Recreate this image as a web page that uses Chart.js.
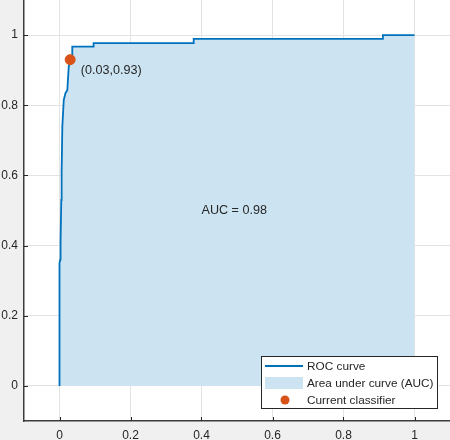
<!DOCTYPE html>
<html>
<head>
<meta charset="utf-8">
<script src="https://cdn.jsdelivr.net/npm/chart.js@4"></script>
<style>
  html, body { margin: 0; padding: 0; background: #f0f0f0; }
  canvas { display: block; }
</style>
</head>
<body>
<canvas id="roc" width="450" height="440"></canvas>
<script>
// ROC curve points (false positive rate, true positive rate)
const fpr = [0, 0, 0.002, 0.003, 0.005, 0.006, 0.008, 0.012, 0.017, 0.022, 0.026, 0.030, 0.036, 0.036, 0.096, 0.096, 0.378, 0.378, 0.911, 0.911, 1];
const tpr = [0, 0.35, 0.36, 0.41, 0.53, 0.61, 0.74, 0.815, 0.835, 0.843, 0.91, 0.925, 0.93, 0.967, 0.967, 0.977, 0.977, 0.989, 0.989, 1.0, 1.0];
// operating point of the current classifier
const opX = [0.03];
const opY = [0.93];
const opLabel = '(0.03,0.93)';
const aucLabel = 'AUC = 0.98';
const seriesLabels = ['ROC curve', 'Area under curve (AUC)', 'Current classifier'];
const xTicks = [0, 0.2, 0.4, 0.6, 0.8, 1];
const yTicks = [0, 0.2, 0.4, 0.6, 0.8, 1];

const FONT = '"Liberation Sans", Arial, Helvetica, sans-serif';
const TXT = '#262626';
const BLUE = '#0072BD';
const AREA = 'rgb(204,228,242)';
const ORANGE = '#D95319';

const rocPts = fpr.map((x, i) => ({ x, y: tpr[i] }));
const opPts = opX.map((x, i) => ({ x, y: opY[i] }));

const plotBg = {
  id: 'plotBg',
  beforeDraw(chart) {
    const { ctx, chartArea: a } = chart;
    ctx.save();
    ctx.fillStyle = '#ffffff';
    ctx.fillRect(a.left, a.top, a.right - a.left, a.bottom - a.top);
    ctx.restore();
  }
};

// text labels, inward tick marks and the boxed legend
const extras = {
  id: 'extras',
  afterDraw(chart) {
    const { ctx, chartArea: a, scales: { x, y } } = chart;
    ctx.save();
    ctx.strokeStyle = '#262626';
    ctx.lineWidth = 1;
    ctx.beginPath();
    xTicks.forEach(v => { const px = Math.round(x.getPixelForValue(v)) + 0.5; ctx.moveTo(px, a.bottom); ctx.lineTo(px, a.bottom - 4); });
    yTicks.forEach(v => { const py = Math.round(y.getPixelForValue(v)) + 0.5; ctx.moveTo(a.left, py); ctx.lineTo(a.left + 4, py); });
    ctx.stroke();

    ctx.fillStyle = TXT;
    ctx.font = '12.6px ' + FONT;
    ctx.textAlign = 'left';
    ctx.textBaseline = 'middle';
    ctx.fillText(opLabel, x.getPixelForValue(opX[0] + 0.03), y.getPixelForValue(opY[0] - 0.03));
    ctx.fillText(aucLabel, x.getPixelForValue(0.4), y.getPixelForValue(0.5));

    // legend box
    const L = 261, T = 356, W = 176, H = 52;
    ctx.fillStyle = '#ffffff';
    ctx.fillRect(L, T, W, H);
    ctx.lineWidth = 1;
    ctx.strokeStyle = '#262626';
    ctx.strokeRect(L + 0.5, T + 0.5, W, H);
    const rows = [T + 10, T + 27, T + 44];
    ctx.strokeStyle = BLUE;
    ctx.lineWidth = 2;
    ctx.beginPath(); ctx.moveTo(265, rows[0]); ctx.lineTo(303, rows[0]); ctx.stroke();
    ctx.fillStyle = AREA;
    ctx.fillRect(265, rows[1] - 6, 38, 12);
    ctx.fillStyle = ORANGE;
    ctx.beginPath(); ctx.arc(285, rows[2], 4.5, 0, Math.PI * 2); ctx.fill();
    ctx.fillStyle = TXT;
    ctx.font = '11.8px ' + FONT;
    seriesLabels.forEach((s, i) => ctx.fillText(s, 307, rows[i] + 1));
    ctx.restore();
  }
};

function axis(ticks, isY) {
  return {
    type: 'linear',
    min: -0.1,
    max: 1.1,
    afterBuildTicks: s => { s.ticks = ticks.map(v => ({ value: v })); },
    afterFit: s => {
      if (isY) s.width = 24; else s.height = 19;
      s.paddingTop = 0; s.paddingBottom = 0; s.paddingLeft = 0; s.paddingRight = 0;
    },
    grid: { color: '#e3e3e3', lineWidth: 1, drawTicks: false },
    border: { color: '#3c3c3c', width: 1.5 },
    ticks: {
      padding: isY ? 6 : 7,
      color: TXT,
      font: { family: FONT, size: 12 },
      callback: v => String(v)
    }
  };
}

new Chart(document.getElementById('roc'), {
  type: 'scatter',
  data: {
    datasets: [
      { label: seriesLabels[1], data: rocPts, showLine: true, fill: 'origin', backgroundColor: AREA, borderWidth: 0, pointRadius: 0, order: 3 },
      { label: seriesLabels[0], data: rocPts, showLine: true, fill: false, borderColor: BLUE, borderWidth: 1.8, pointRadius: 0, order: 2 },
      { label: seriesLabels[2], data: opPts, backgroundColor: ORANGE, borderColor: ORANGE, pointRadius: 5, order: 1 }
    ]
  },
  options: {
    responsive: false,
    animation: false,
    layout: { padding: 0, autoPadding: false },
    plugins: { legend: { display: false }, tooltip: { enabled: false } },
    scales: { x: axis(xTicks, false), y: axis(yTicks, true) }
  },
  plugins: [plotBg, extras]
});
</script>
</body>
</html>
